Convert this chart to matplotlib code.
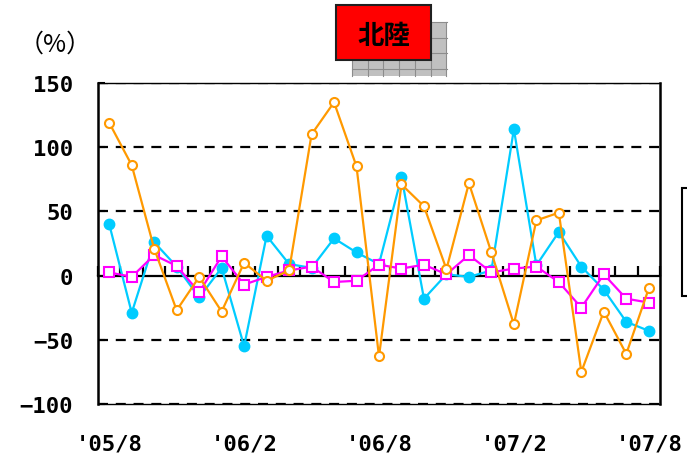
import matplotlib
matplotlib.use("Agg")
import matplotlib.pyplot as plt
from matplotlib.patches import Rectangle
import numpy as np

plt.rcParams['font.family'] = ['Noto Sans CJK JP', 'DejaVu Sans']

# ---- data ----
months = ["'05/8", "'05/9", "'05/10", "'05/11", "'05/12", "'06/1", "'06/2", "'06/3",
          "'06/4", "'06/5", "'06/6", "'06/7", "'06/8", "'06/9", "'06/10", "'06/11",
          "'06/12", "'07/1", "'07/2", "'07/3", "'07/4", "'07/5", "'07/6", "'07/7", "'07/8"]
shown_labels = ["'05/8", "'06/2", "'06/8", "'07/2", "'07/8"]
series_cyan = [40, -29, 26, 7, -17, 6, -55, 31, 9, 6, 29, 18, 9,
               77, -18, 1, -1, 4, 114, 8, 34, 7, -11, -36, -43]
series_magenta = [2.5, -1, 16, 7.5, -13, 15, -7, -1, 4, 7, -5, -4, 8.5,
                  5.5, 8.5, 1, 16, 2.5, 5.5, 7, -5, -25, 1, -18, -21]
series_orange = [119, 86, 21, -27, -1, -28, 10, -4, 4, 110, 135, 85, -63,
                 71, 54, 5, 72, 18, -38, 43, 49, -75, -28, -61, -10]
y_ticks = [150, 100, 50, 0, -50, -100]

W, H = 687, 456
fig = plt.figure(figsize=(W / 100, H / 100), dpi=100)
ax = fig.add_axes([98 / W, 1 - 405 / H, (660 - 98) / W, (405 - 84) / H])

x = np.arange(len(months))
ax.plot(x, series_cyan, color='#00CCFF', lw=1.6, marker='o', ms=7.5,
        mfc='#00CCFF', mec='#00CCFF', zorder=3, clip_on=False)
ax.plot(x, series_magenta, color='#FF00FF', lw=1.6, marker='s', ms=6.5,
        mfc='white', mec='#FF00FF', mew=1.5, zorder=4, clip_on=False)
ax.plot(x, series_orange, color='#FF9900', lw=1.6, marker='o', ms=6.5,
        mfc='white', mec='#FF9900', mew=1.5, zorder=5, clip_on=False)

ax.set_xlim(-0.5, len(months) - 0.5)
ax.set_ylim(-100, 150)

tick_font = dict(family='DejaVu Sans Mono', fontsize=16, fontweight='bold')

# y axis
ax.set_yticks(y_ticks)
ax.set_yticklabels([str(v).replace('-', '\u2212') for v in y_ticks], **tick_font)
ax.tick_params(axis='y', direction='in', length=5, width=1.5, pad=18)
for v in y_ticks:
    if v != 0:
        ax.axhline(v, color='black', lw=1.6, dashes=(4.5, 3.5), zorder=1)

# x axis labels (bottom)
pos = [months.index(m) for m in shown_labels]
ax.set_xticks(pos)
ax.set_xticklabels(shown_labels, **tick_font)
ax.tick_params(axis='x', length=0, pad=21)

# zero line with category-boundary ticks
sec = ax.secondary_xaxis(0.4)
sec.set_xticks(np.arange(len(months) + 1) - 0.5)
sec.set_xticklabels([])
sec.tick_params(axis='x', direction='in', length=7, width=1.6, color='black')
sec.spines['bottom'].set_linewidth(1.6)

for s in ['left', 'right']:
    ax.spines[s].set_linewidth(1.8)
ax.spines['top'].set_linewidth(1.0)
ax.spines['bottom'].set_linewidth(1.0)

# (%) label
fig.text(55 / W, 1 - 45 / H, '（%）', fontsize=18, ha='center', va='center')

# title box with shadow
shadow = Rectangle((352 / W, 1 - 77 / H), 95 / W, 54 / H, transform=fig.transFigure,
                   facecolor='#C0C0C0', edgecolor='none', zorder=1)
fig.patches.append(shadow)
for gx in np.arange(352, 448, 15.7):
    fig.add_artist(plt.Line2D([gx / W, gx / W], [1 - 77 / H, 1 - 23 / H], color='#8C8C8C', lw=0.8,
                              transform=fig.transFigure, zorder=2))
for gy in np.arange(23, 78, 15.5):
    fig.add_artist(plt.Line2D([352 / W, 447 / W], [1 - gy / H, 1 - gy / H], color='#8C8C8C', lw=0.8,
                              transform=fig.transFigure, zorder=2))
title_box = Rectangle((336 / W, 1 - 61 / H), 95 / W, 55 / H, transform=fig.transFigure,
                      facecolor='#FF0000', edgecolor='#202020', lw=1.5, zorder=3)
fig.add_artist(title_box)
fig.text(384 / W, 1 - 36 / H, '北陸', fontsize=19, fontweight='bold', ha='center',
         va='center', zorder=4)

# legend box (cut off at right edge)
leg = Rectangle((682 / W, 1 - 297 / H), 30 / W, 108 / H, transform=fig.transFigure,
                facecolor='white', edgecolor='black', lw=1.5, clip_on=False)
fig.add_artist(leg)

fig.savefig('out.png', dpi=100)
